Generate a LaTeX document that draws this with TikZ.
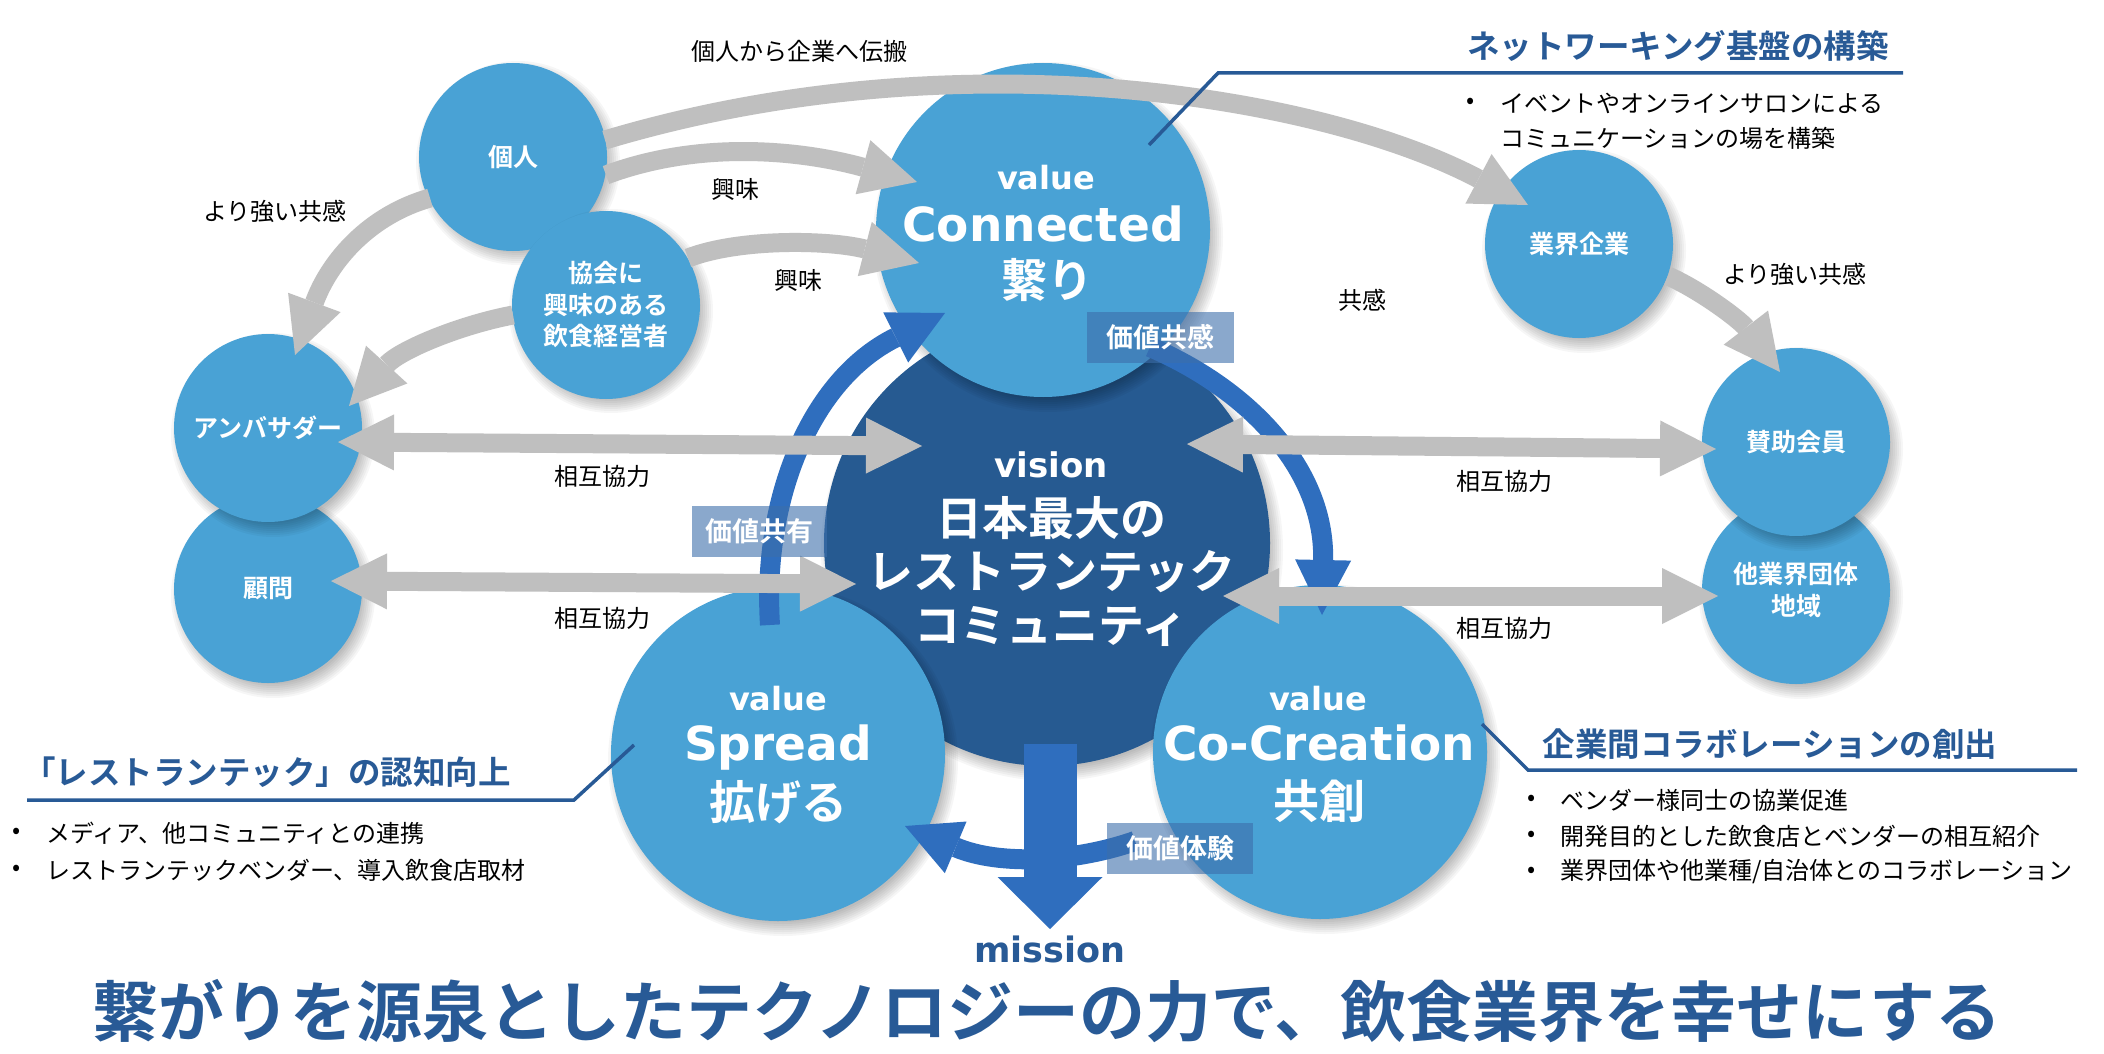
\documentclass[tikz,border=0pt]{standalone}
\usepackage{fontspec}
\setmainfont{Noto Sans CJK JP}[BoldFont={Noto Sans CJK JP Bold}]
\newfontfamily\latinfont{DejaVu Sans}
\usetikzlibrary{arrows.meta}
\definecolor{lblue}{RGB}{73,162,213}
\definecolor{dblue}{RGB}{38,90,145}
\definecolor{ablue}{RGB}{47,110,190}
\definecolor{agray}{RGB}{191,191,191}
\definecolor{tblue}{RGB}{40,90,150}
\definecolor{boxc}{RGB}{60,110,170}
\newcommand\softshadow[3]{\foreach \k in {0,...,7}{\fill[black,opacity=0.035] (#1+5,#2+7) circle[radius=#3+8-2*\k];}}
\tikzset{
  smallc/.style={circle, fill=lblue, minimum size=188pt, inner sep=0pt, text=white, align=center, font=\bfseries\fontsize{25}{31.5}\selectfont},
  bigc/.style={circle, fill=lblue, minimum size=334pt, inner sep=0pt},
  visc/.style={circle, fill=dblue, minimum size=446pt, inner sep=0pt},
  lbl/.style={inner sep=0pt, font=\fontsize{24}{28}\selectfont, text=black},
  bul/.style={inner sep=0pt, font=\fontsize{24}{28}\selectfont, text=black, anchor=west},
  head/.style={inner sep=0pt, font=\bfseries\fontsize{32.5}{36}\selectfont, text=tblue},
  hline/.style={draw=tblue, line width=3.5pt},
  vbox/.style={fill=boxc, fill opacity=0.6, text opacity=1, text=white, font=\bfseries\fontsize{27}{30}\selectfont, minimum height=51pt, inner sep=0pt},
  valtxt/.style={inner sep=0pt, anchor=base, text=white, font=\latinfont\bfseries\fontsize{32}{36}\selectfont},
  bigtxt/.style={inner sep=0pt, anchor=base, text=white, font=\latinfont\bfseries\fontsize{47}{52}\selectfont},
  jbig/.style={inner sep=0pt, text=white, align=center, font=\bfseries\fontsize{46}{53.5}\selectfont},
  garrow/.style={draw=agray, line width=19pt, -{Triangle[length=56pt,width=56pt,line width=0pt]}},
  gdarrow/.style={draw=agray, line width=19pt, {Triangle[length=56pt,width=56pt,line width=0pt]}-{Triangle[length=56pt,width=56pt,line width=0pt]}},
  barrow/.style={draw=ablue, line width=20pt, -{Triangle[length=55pt,width=56pt,line width=0pt]}},
  marrow/.style={draw=ablue, line width=53pt, -{Triangle[length=52pt,width=105pt,line width=0pt]}}
}
\begin{document}
\begin{tikzpicture}[x=1pt,y=-1pt]
\useasboundingbox (0,0) rectangle (2104,1054);
\fill[white] (0,0) rectangle (2104,1054);

% central circles
\softshadow{1047}{543}{223}
\node[visc] (vis) at (1047,543) {};
\softshadow{1043}{230}{167}
\node[bigc] (conn) at (1043,230) {};
\softshadow{778}{754}{167}
\node[bigc] (spr) at (778,754) {};
\softshadow{1320}{752}{167}
\node[bigc] (cocr) at (1320,752) {};

% small circles
\softshadow{268}{589}{94}
\node[smallc] (komon) at (268,589) {顧問};
\softshadow{268}{428}{94}
\node[smallc] (amb) at (268,428) {アンバサダー};
\softshadow{513}{156}{94}
\node[smallc] (kojin) at (513,157) {個人};
\softshadow{606}{304}{94}
\node[smallc] (kyokai) at (606,305) {協会に\\興味のある\\飲食経営者};
\softshadow{1579}{244}{94}
\node[smallc] (gyokai) at (1579,244) {業界企業};
\softshadow{1796}{590}{94}
\node[smallc] (tagyo) at (1796,590) {他業界団体\\地域};
\softshadow{1796}{442}{94}
\node[smallc] (sanjo) at (1796,442) {賛助会員};

% blue value arrows
\coordinate (a1s) at (770,625); \coordinate (a1e) at (945,313);
\draw[barrow] (a1s) .. controls (762,500) and (810,380) .. (a1e);
\coordinate (a2s) at (1150,347); \coordinate (a2e) at (1322,615);
\draw[barrow] (a2s) .. controls (1250,390) and (1325,470) .. (a2e);
\coordinate (a3s) at (1135,841); \coordinate (a3e) at (905,826);
\draw[barrow] (a3s) .. controls (1075,862) and (1000,866) .. (a3e);
% mission arrow
\coordinate (ms) at (1050,744); \coordinate (me) at (1050,929);
\draw[marrow] (ms) -- (me);

% gray arrows
\coordinate (g1s) at (605,140); \coordinate (g1e) at (1528,205);
\draw[garrow] (g1s) .. controls (955,35) and (1320,95) .. (g1e);
\coordinate (g2s) at (606,175); \coordinate (g2e) at (917,182);
\draw[garrow] (g2s) .. controls (700,140) and (800,150) .. (g2e);
\coordinate (g3s) at (688,258); \coordinate (g3e) at (919,263);
\draw[garrow] (g3s) .. controls (740,238) and (830,240) .. (g3e);
\coordinate (g4s) at (430,198); \coordinate (g4e) at (295,355);
\draw[garrow] (g4s) .. controls (370,215) and (330,260) .. (g4e);
\coordinate (g5s) at (513,315); \coordinate (g5e) at (349,406);
\draw[garrow] (g5s) .. controls (460,325) and (400,350) .. (g5e);
\coordinate (g6s) at (1668,276); \coordinate (g6e) at (1780,372);
\draw[garrow] (g6s) .. controls (1700,290) and (1740,320) .. (g6e);

\coordinate (d1s) at (338,442); \coordinate (d1e) at (922,446);
\draw[gdarrow] (d1s) -- (d1e);
\coordinate (d2s) at (1187,444); \coordinate (d2e) at (1716,449);
\draw[gdarrow] (d2s) -- (d2e);
\coordinate (d3s) at (331,581); \coordinate (d3e) at (856,584);
\draw[gdarrow] (d3s) -- (d3e);
\coordinate (d4s) at (1223,596); \coordinate (d4e) at (1718,596);
\draw[gdarrow] (d4s) -- (d4e);

% value boxes
\node[vbox, minimum width=135pt] (bshare) at (759.5,531) {価値共有};
\node[vbox, minimum width=147pt] (bemp) at (1160.5,337.5) {価値共感};
\node[vbox, minimum width=146pt] (bexp) at (1180,848.5) {価値体験};

% circle texts
\node[valtxt] (connv) at (1046,189) {value};
\node[bigtxt] (conne) at (1043,241) {Connected};
\node[jbig] (connj) at (1047,280) {繋り};
\node[valtxt] (sprv) at (778,710) {value};
\node[bigtxt] (spre) at (778,760) {Spread};
\node[jbig] (sprj) at (778,802) {拡げる};
\node[valtxt] (cocrv) at (1318,710) {value};
\node[bigtxt] (cocre) at (1319,760) {Co-Creation};
\node[jbig] (cocrj) at (1319,801) {共創};
\node[inner sep=0pt, anchor=base, text=white, font=\latinfont\bfseries\fontsize{34}{38}\selectfont] (visv) at (1051,477) {vision};
\node[jbig] (visj) at (1051,571) {日本最大の\\レストランテック\\コミュニティ};
\node[inner sep=0pt, anchor=base, text=tblue, font=\latinfont\bfseries\fontsize{35}{40}\selectfont] (mis) at (1050,962) {mission};

% labels
\node[lbl] (lprop) at (799,51) {個人から企業へ伝搬};
\node[lbl] (lint1) at (735,189) {興味};
\node[lbl] (lint2) at (798,280) {興味};
\node[lbl] (lstr1) at (275,211) {より強い共感};
\node[lbl] (lemp) at (1362,300) {共感};
\node[lbl] (lstr2) at (1795,274) {より強い共感};
\node[lbl] (lco1) at (602,476) {相互協力};
\node[lbl] (lco2) at (602,618) {相互協力};
\node[lbl] (lco3) at (1504,481) {相互協力};
\node[lbl] (lco4) at (1504,628) {相互協力};

% headings and leader lines
\node[head] (hnet) at (1678,46) {ネットワーキング基盤の構築};
\coordinate (hn1) at (1149,145); \coordinate (hn2) at (1218,73); \coordinate (hn3) at (1903,73);
\draw[hline] (hn1) -- (hn2) -- (hn3);
\node[head] (hspr) at (267,772) {「レストランテック」の認知向上};
\coordinate (hs1) at (634,745); \coordinate (hs2) at (574,800); \coordinate (hs3) at (27,800);
\draw[hline] (hs1) -- (hs2) -- (hs3);
\node[head] (hco) at (1770,744) {企業間コラボレーションの創出};
\coordinate (hc1) at (1482,724); \coordinate (hc2) at (1528,770); \coordinate (hc3) at (2077,770);
\draw[hline] (hc1) -- (hc2) -- (hc3);

% bullets
\node[lbl] (btd) at (1471,103) {•};
\node[bul] (bt1) at (1500,103) {イベントやオンラインサロンによる};
\node[bul] (bt2) at (1500,138) {コミュニケーションの場を構築};
\node[lbl] (bld1) at (17,833) {•};
\node[bul] (bl1) at (46,833) {メディア、他コミュニティとの連携};
\node[lbl] (bld2) at (17,870) {•};
\node[bul] (bl2) at (46,870) {レストランテックベンダー、導入飲食店取材};
\node[lbl] (brd1) at (1532,800) {•};
\node[bul] (br1) at (1560,800) {ベンダー様同士の協業促進};
\node[lbl] (brd2) at (1532,836) {•};
\node[bul] (br2) at (1560,836) {開発目的とした飲食店とベンダーの相互紹介};
\node[lbl] (brd3) at (1532,872) {•};
\node[bul] (br3) at (1560,872) {業界団体や他業種/自治体とのコラボレーション};

% mission statement
\node[inner sep=0pt, text=tblue, font=\bfseries\fontsize{66}{70}\selectfont] (title) at (1047,1011) {繋がりを源泉としたテクノロジーの力で、飲食業界を幸せにする};
\end{tikzpicture}
\end{document}
